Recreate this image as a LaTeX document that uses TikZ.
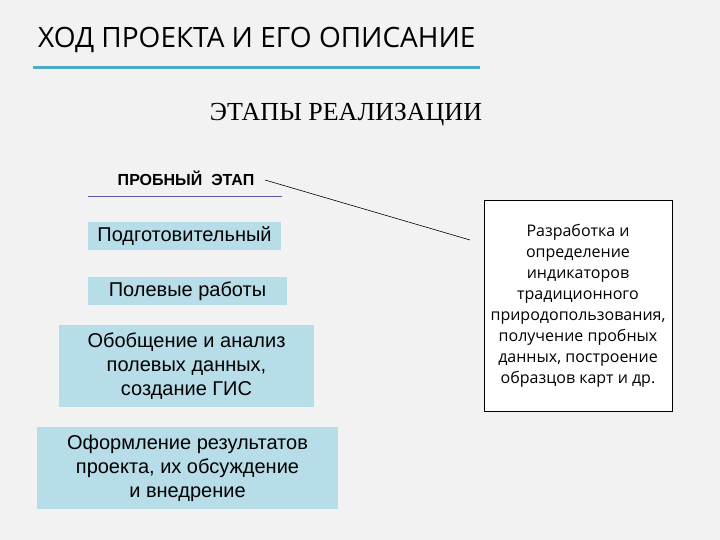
\documentclass[tikz,border=0pt]{standalone}
\usepackage{fontspec}
\setmainfont{Liberation Serif}
\newfontfamily\arial{Liberation Sans}
\newfontfamily\opens{Open Sans}
\begin{document}
\begin{tikzpicture}[x=1pt,y=-1pt,
  stage/.style={fill=boxblue,draw=none,inner sep=0pt,align=center,font=\arial\fontsize{20}{24}\selectfont},
]
\definecolor{bg}{HTML}{F2F2F2}
\definecolor{boxblue}{HTML}{B7DDE8}
\definecolor{ulblue}{HTML}{4BACC6}
\fill[bg] (0,0) rectangle (720,540);
\useasboundingbox (0,0) rectangle (720,540);
\node[anchor=west,inner sep=0pt,font=\opens\fontsize{28}{32}\selectfont] (title) at (38,40) {ХОД ПРОЕКТА И ЕГО ОПИСАНИЕ};
\draw[ulblue,line width=3pt] (33,68) -- (480,68);
\node[font=\fontsize{26}{30}\selectfont] (etapy) at (346,115) {ЭТАПЫ РЕАЛИЗАЦИИ};
\node[font=\arial\bfseries\fontsize{16}{18}\selectfont] (probe) at (186,178) {ПРОБНЫЙ\ \ ЭТАП};
\draw[gray!70!blue,line width=0.6pt] (88,196) -- (282,196);
\node[stage,minimum width=193,minimum height=28] (s1) at (184.5,236) {Подготовительный};
\node[stage,minimum width=199,minimum height=28] (s2) at (187.5,291) {Полевые работы};
\node[stage,minimum width=255,minimum height=82] (s3) at (186.5,366) {Обобщение и анализ\\полевых данных,\\создание ГИС};
\node[stage,minimum width=301,minimum height=82] (s4) at (187.5,468) {Оформление результатов\\проекта, их обсуждение\\и внедрение};
\node[draw=black,fill=white,line width=0.8pt,minimum width=188,minimum height=211,align=center,inner sep=0pt,font=\opens\fontsize{16}{21}\selectfont] (desc) at (578,305.5) {Разработка и\\определение\\индикаторов\\традиционного\\природопользования,\\получение пробных\\данных, построение\\образцов карт и др.};
\coordinate (a) at (265,180);
\coordinate (b) at (470,240);
\draw[black,line width=0.6pt] (a) -- (b);
\end{tikzpicture}
\end{document}
